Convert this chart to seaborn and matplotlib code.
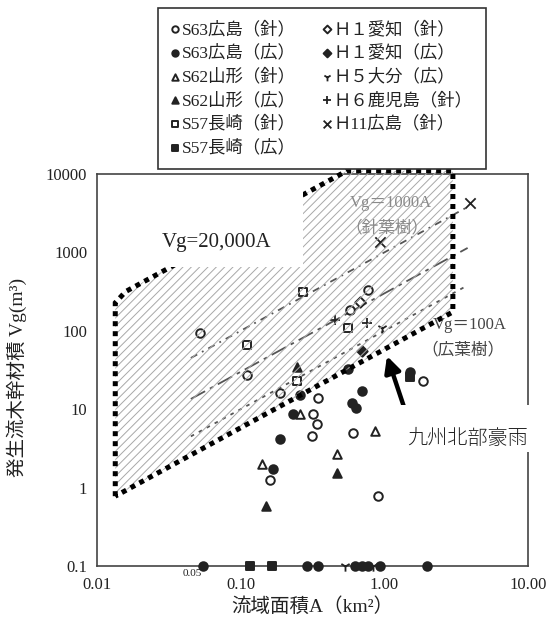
import numpy as np
import matplotlib
matplotlib.use("Agg")
import matplotlib.pyplot as plt
import seaborn as sns
from matplotlib.patches import Polygon, Rectangle

# Catchment area A (km2) and driftwood volume Vg (m3) per event
# (Vg = 0.1 stands for "no driftwood" points drawn on the axis)
s63_hiroshima_n_A = [0.345, 0.318, 0.34, 0.314, 0.61, 0.16, 0.90, 1.86, 0.187, 0.111, 0.052, 0.77, 0.58]
s63_hiroshima_n_V = [13.7, 8.8, 6.5, 4.5, 4.9, 1.26, 0.79, 23, 16, 27, 95, 330, 182]

s63_hiroshima_b_A = [0.70, 0.60, 0.63, 0.231, 0.187, 0.167, 1.51, 0.26, 0.56,
                     0.055, 0.289, 0.346, 0.62, 0.70, 0.77, 0.93, 1.98]
s63_hiroshima_b_V = [17.3, 12.1, 10.5, 8.8, 4.2, 1.74, 30, 15, 33,
                     0.1, 0.1, 0.1, 0.1, 0.1, 0.1, 0.1, 0.1]

s62_yamagata_n_A = [0.26, 0.86, 0.47, 0.14]
s62_yamagata_n_V = [8.8, 5.3, 2.7, 2.0]

s62_yamagata_b_A = [0.47, 0.15, 0.247]
s62_yamagata_b_V = [1.55, 0.58, 35]

s57_nagasaki_n_A = [0.27, 0.111, 0.247, 0.56]
s57_nagasaki_n_V = [310, 65, 23, 107]

s57_nagasaki_b_A = [1.51, 0.116, 0.165]
s57_nagasaki_b_V = [26, 0.1, 0.1]

h1_aichi_n_A = [0.68]
h1_aichi_n_V = [231]

h1_aichi_b_A = [0.70]
h1_aichi_b_V = [56]

h5_oita_b_A = [0.96, 0.53, 0.83]
h5_oita_b_V = [107, 0.1, 0.1]

h6_kagoshima_n_A = [0.45, 0.76]
h6_kagoshima_n_V = [136, 124]

h11_hiroshima_n_A = [3.94, 0.93]
h11_hiroshima_n_V = [4260, 1350]

# reference lines Vg = k * A
ref_coef = [1000, 300, 100]
ref_A = [0.045, 3.8]

# envelope of the hatched zone
env_upper_coef = 20000
env_lower_coef = 58
env_left_A = 0.0134
env_right_A = 3.0
env_top_V = 11000

series = [
    ("S63広島（針）", s63_hiroshima_n_A, s63_hiroshima_n_V, "o", False),
    ("S63広島（広）", s63_hiroshima_b_A, s63_hiroshima_b_V, "o", True),
    ("S62山形（針）", s62_yamagata_n_A, s62_yamagata_n_V, "^", False),
    ("S62山形（広）", s62_yamagata_b_A, s62_yamagata_b_V, "^", True),
    ("S57長崎（針）", s57_nagasaki_n_A, s57_nagasaki_n_V, "s", False),
    ("S57長崎（広）", s57_nagasaki_b_A, s57_nagasaki_b_V, "s", True),
    ("Ｈ１愛知（針）", h1_aichi_n_A, h1_aichi_n_V, "D", False),
    ("Ｈ１愛知（広）", h1_aichi_b_A, h1_aichi_b_V, "D", True),
    ("Ｈ５大分（広）", h5_oita_b_A, h5_oita_b_V, "1", True),
    ("Ｈ６鹿児島（針）", h6_kagoshima_n_A, h6_kagoshima_n_V, "+", True),
    ("Ｈ11広島（針）", h11_hiroshima_n_A, h11_hiroshima_n_V, "x", True),
]

sns.set_theme(style="white")
serif_cjk = ["Liberation Serif", "Noto Sans CJK JP", "DejaVu Sans"]
plt.rcParams["font.family"] = serif_cjk
plt.rcParams["hatch.linewidth"] = 0.7

W, H = 552, 625


def fx(px):
    return px / W


def fy(py):
    return 1 - py / H


ink = "#222222"

fig = plt.figure(figsize=(5.52, 6.25), dpi=100)
ax = fig.add_axes([fx(97), fy(566), fx(528) - fx(97), fy(174) - fy(566)])
ax.set_xscale("log")
ax.set_yscale("log")
ax.set_xlim(0.01, 10)
ax.set_ylim(0.1, 10000)

# data points
for name, xs, ys, mk, filled in series:
    if mk in ("+", "x", "1"):
        sns.scatterplot(x=xs, y=ys, marker=mk, color=ink, s=55, linewidth=1.3,
                        ax=ax, label=name, zorder=3, clip_on=False)
    else:
        sns.scatterplot(x=xs, y=ys, marker=mk, s=38 if mk != "D" else 28,
                        facecolor=ink if filled else "white", edgecolor=ink,
                        linewidth=1.4, ax=ax, label=name, zorder=3, clip_on=False)

# reference lines
styles = [(0, (4, 3, 1, 3)), (0, (9, 3, 2, 3)), (0, (2, 3))]
for k, ls in zip(ref_coef, styles):
    xs = np.array(ref_A)
    sns.lineplot(x=xs, y=k * xs, ax=ax, color="#555555", lw=1.3,
                 linestyle=ls, zorder=2, legend=False)

# hatched zone
zone = [
    (env_left_A, env_lower_coef * env_left_A),
    (env_left_A, env_upper_coef * env_left_A * 0.85),
    (env_left_A * 1.18, env_upper_coef * env_left_A * 1.18),
    (env_top_V / env_upper_coef, env_top_V),
    (env_right_A, env_top_V),
    (env_right_A, env_lower_coef * env_right_A),
]
ax.add_patch(Polygon(zone, closed=True, facecolor="none", edgecolor="#a8a8a8",
                     hatch="////", linewidth=0, zorder=4, clip_on=False))
ax.add_patch(Polygon(zone, closed=True, facecolor="none", edgecolor="black",
                     linewidth=3.6, linestyle=(0, (1, 1)), zorder=5,
                     clip_on=False, capstyle="butt", joinstyle="miter"))

# axes
ax.set_xticks([0.01, 0.1, 1, 10])
ax.set_xticklabels(["0.01", "0.10", "1.00", "10.00"])
ax.set_yticks([0.1, 1, 10, 100, 1000, 10000])
ax.set_yticklabels(["0.1", "1", "10", "100", "1000", "10000"])
ax.minorticks_off()
ax.tick_params(axis="both", labelsize=12, colors=ink, length=3, width=1,
               direction="out", pad=4)
ax.tick_params(axis="x", length=0, pad=8)
for s in ax.spines.values():
    s.set_color("#444444")
    s.set_linewidth(1.2)
ax.set_xlabel("")
ax.set_ylabel("")

fig.text(fx(192), fy(573), "0.05", fontsize=8, color=ink, ha="center", va="center")
fig.text(fx(312), fy(607), "流域面積A（km²）", fontsize=14, color=ink,
         ha="center", va="center")
fig.text(fx(17), fy(377), "発生流木幹材積 Vg(m³)", fontsize=14, color=ink,
         ha="center", va="center", rotation=90)

# line labels
fig.text(fx(391), fy(203), "Vg＝1000A", fontsize=12, color="#8a8a8a",
         ha="center", va="center", zorder=3)
fig.text(fx(387), fy(228), "（針葉樹）", fontsize=12, color="#8a8a8a",
         ha="center", va="center", zorder=3)
fig.text(fx(470), fy(325), "Vg＝100A", fontsize=12, color="#444444",
         ha="center", va="center", zorder=3)
fig.text(fx(463), fy(350), "（広葉樹）", fontsize=12, color="#444444",
         ha="center", va="center", zorder=3)

# white label boxes
fig.patches.append(Rectangle((fx(115), fy(267)), fx(303) - fx(115), fy(175) - fy(267),
                             transform=fig.transFigure, facecolor="white",
                             edgecolor="none", zorder=6))
fig.text(fx(217), fy(243), "Vg=20,000A", fontsize=15, color=ink,
         family="Liberation Serif", ha="center", va="center", zorder=7)

fig.patches.append(Rectangle((fx(401), fy(452)), fx(538) - fx(401), fy(405) - fy(452),
                             transform=fig.transFigure, facecolor="white",
                             edgecolor="none", zorder=6))
fig.text(fx(468), fy(438), "九州北部豪雨", fontsize=14.5, color=ink,
         family=["Noto Sans CJK JP"], fontweight="light",
         ha="center", va="center", zorder=7)

ax.annotate("", xy=(fx(387), fy(356)), xytext=(fx(409), fy(422)),
            xycoords="figure fraction", textcoords="figure fraction",
            arrowprops=dict(arrowstyle="-|>", lw=3.2, color="black",
                            mutation_scale=24, shrinkA=0, shrinkB=0),
            zorder=8, annotation_clip=False)

# legend
handles, labels = ax.get_legend_handles_labels()
if ax.legend_:
    ax.legend_.remove()
leg = fig.legend(handles, labels, ncol=2, loc="upper left",
                 bbox_to_anchor=(fx(158), fy(165), fx(486) - fx(158), fy(8) - fy(165)),
                 bbox_transform=fig.transFigure, mode="expand",
                 fontsize=12.5, frameon=True, fancybox=False, framealpha=1,
                 edgecolor="#333333", handlelength=0.5, handletextpad=0.15,
                 labelspacing=0.4, borderpad=0.75, columnspacing=1.5,
                 markerscale=0.75, borderaxespad=0)
leg.get_frame().set_linewidth(1.2)
for t in leg.get_texts():
    t.set_color(ink)

fig.savefig("out.png", dpi=100)
